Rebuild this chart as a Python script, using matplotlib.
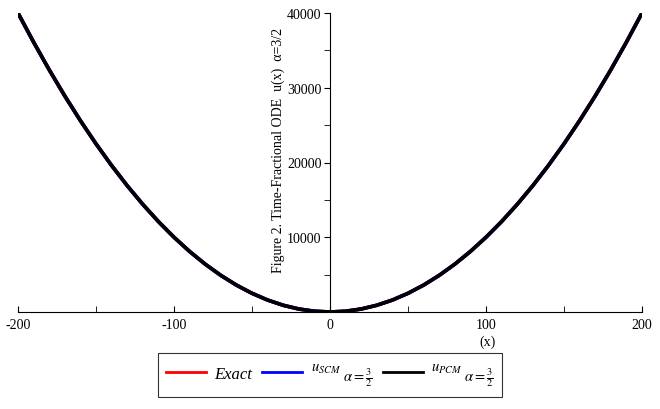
import matplotlib
matplotlib.use("Agg")
import matplotlib.pyplot as plt
from matplotlib.lines import Line2D

plt.rcParams['font.family'] = ['Liberation Serif', 'DejaVu Serif']
plt.rcParams['mathtext.fontset'] = 'stix'

# values
x_vals = [-200, -190, -180, -170, -160, -150, -140, -130, -120, -110, -100,
          -90, -80, -70, -60, -50, -40, -30, -20, -10, 0,
          10, 20, 30, 40, 50, 60, 70, 80, 90, 100,
          110, 120, 130, 140, 150, 160, 170, 180, 190, 200]
u_vals = [40000, 36100, 32400, 28900, 25600, 22500, 19600, 16900, 14400, 12100, 10000,
          8100, 6400, 4900, 3600, 2500, 1600, 900, 400, 100, 0,
          100, 400, 900, 1600, 2500, 3600, 4900, 6400, 8100, 10000,
          12100, 14400, 16900, 19600, 22500, 25600, 28900, 32400, 36100, 40000]
x_ticks = [-200, -100, 0, 100, 200]
y_ticks = [10000, 20000, 30000, 40000]
series_labels = ["Exact", r"$^{u_{SCM}}\,{}_{\alpha=\frac{3}{2}}$", r"$^{u_{PCM}}\,{}_{\alpha=\frac{3}{2}}$"]
series_colors = ["#ff0000", "#0000ff", "#000000"]

fig = plt.figure(figsize=(6.6, 4.1), dpi=100)
ax = fig.add_axes([18/660, 1-313/410, 624/660, 299/410])

for c in series_colors:
    ax.plot(x_vals, u_vals, color=c, lw=2.6, solid_capstyle='butt')

ax.set_xlim(-200, 200)
ax.set_ylim(0, 40000)
ax.spines['top'].set_visible(False)
ax.spines['right'].set_visible(False)
ax.spines['left'].set_position(('data', 0))
ax.spines['bottom'].set_position(('data', 0))
for s in ['left', 'bottom']:
    ax.spines[s].set_linewidth(0.8)
ax.set_xticks(x_ticks)
ax.set_xticklabels(["-200", "-100", "0", "100", "200"])
ax.set_xticks([-150, -50, 50, 150], minor=True)
ax.set_yticks(y_ticks)
ax.set_yticklabels(["10000", "20000", "30000", "40000"])
ax.set_yticks([5000, 15000, 25000, 35000], minor=True)
ax.tick_params(axis='x', which='both', direction='in', length=4, labelsize=10, pad=4)
ax.tick_params(axis='y', which='both', direction='out', length=4, labelsize=10, pad=2)

fig.text(488/660, 1-342/410, "(x)", ha='center', va='center', fontsize=10)
fig.text(278/660, 1-150/410, "Figure 2. Time-Fractional ODE  u(x)  α=3/2", rotation=90,
         ha='center', va='center', fontsize=10)

handles = [Line2D([0], [0], color=c, lw=2) for c in series_colors]
leg = fig.legend(handles, series_labels, loc='center', bbox_to_anchor=(330/660, 1-376/410),
                 ncol=3, frameon=True, fancybox=False, edgecolor='black', fontsize=12,
                 handlelength=2.4, columnspacing=0.6, handletextpad=0.5, borderpad=0.5)
leg.get_frame().set_linewidth(0.8)
leg.get_texts()[0].set_style('italic')
leg.get_texts()[1].set_fontsize(15)
leg.get_texts()[2].set_fontsize(15)

fig.savefig("out.png", dpi=100)
